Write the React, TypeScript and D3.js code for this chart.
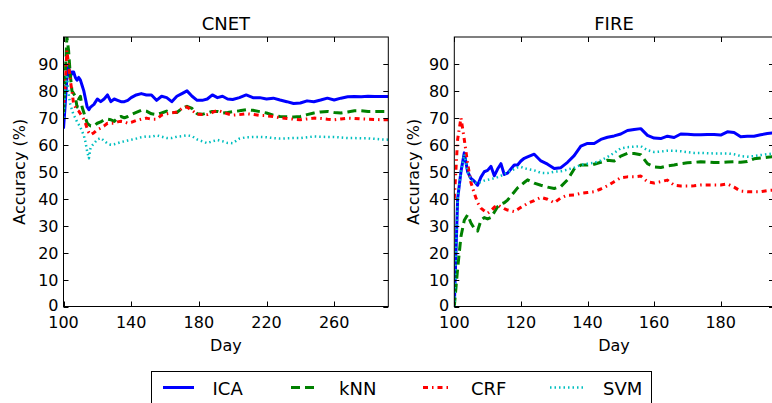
import React, { useEffect, useRef } from 'react';
import * as d3 from 'd3';

// CNET panel
const cnetDays = [100, 101, 102, 103, 104, 105, 106, 107, 108, 109, 110, 111, 112, 113, 114, 115, 116, 118, 120, 122, 124, 126, 128, 130, 132, 134, 136, 138, 140, 143, 146, 149, 152, 155, 158, 161, 164, 167, 170, 173, 176, 179, 182, 185, 188, 191, 194, 197, 200, 204, 208, 212, 216, 220, 224, 228, 232, 236, 240, 244, 248, 252, 256, 260, 264, 268, 272, 276, 280, 284, 288, 292];
const cnetICA = [66, 75, 85, 89, 85, 87, 87, 85, 84, 85, 84, 82, 80, 77, 74, 73, 74, 75, 77, 76, 77, 78.5, 76, 77, 76.5, 76, 76, 76.5, 77.5, 78.5, 79, 78.5, 78.5, 76.5, 78, 77.5, 76, 78, 79, 80, 78, 76.5, 76.5, 77, 78.5, 77.5, 78, 77, 76.8, 77.5, 78.5, 77.5, 77.5, 77, 77.3, 76.6, 76, 75.3, 75.5, 76.3, 76, 76.6, 77.3, 76.6, 77.3, 77.8, 77.9, 77.8, 78, 77.9, 77.9, 77.9];
const cnetKNN = [72, 85, 100, 95, 86, 80, 79, 78, 74, 77, 78, 74, 72, 70, 68, 67.5, 67, 67, 68, 68.5, 69.3, 69.5, 69.3, 68.7, 70, 70.5, 70, 70.5, 71.2, 72, 72.8, 72.5, 71.5, 71.2, 71.8, 72.5, 72, 72, 73.5, 74.3, 73.5, 71.5, 71.3, 71.8, 72.4, 72.4, 71.8, 72, 72.3, 72.6, 73, 72.8, 72.3, 71.8, 71, 70.5, 70.4, 70.3, 70.5, 71.2, 71.8, 72.2, 72.4, 72, 71.8, 72.2, 72.6, 72.6, 72.4, 72.4, 72.4, 72.4];
const cnetCRF = [75, 82, 95, 90, 84, 80, 75, 74, 73, 72.5, 71.5, 70.5, 69.5, 68, 66, 64.5, 63.7, 64.5, 65.6, 66.2, 67, 68, 68, 68, 68.5, 68.7, 68.5, 68, 68.3, 69, 69.5, 69.9, 69.5, 69.5, 71, 71.5, 71.8, 72.2, 73.5, 74, 72.8, 71.3, 71.2, 71.2, 72, 72.8, 72.2, 71.5, 71, 71.2, 71.5, 71.3, 70.9, 70.8, 70.5, 70, 69.8, 69.5, 69.3, 69.6, 69.9, 69.8, 69.5, 69.3, 69.6, 69.9, 69.8, 69.6, 69.5, 69.4, 69.3, 69.3];
const cnetSVM = [70, 80, 86, 79, 75, 73, 71, 70, 68.5, 67.5, 66.5, 65, 63.5, 61, 57.5, 55, 59, 60.5, 62, 62.5, 61.5, 60.5, 60, 60.2, 60.6, 61, 61.3, 61.6, 61.9, 62.3, 62.8, 63.1, 63, 63.5, 63, 62.5, 62.5, 63, 63.2, 63.5, 63.2, 62, 61.3, 60.6, 61.3, 61.8, 61.3, 60.7, 60.6, 62.3, 62.8, 62.9, 62.9, 62.8, 62.5, 62.3, 62.4, 62.5, 62.5, 62.8, 63.1, 63, 62.9, 62.9, 62.7, 62.5, 62.5, 62.4, 62.4, 62.2, 62, 61.9];
const cnetTicks = [100, 140, 180, 220, 260];

// FIRE panel
const fireDays = [100, 101, 102, 103, 104, 105, 106, 107, 108, 109, 110, 111, 112, 113, 114, 115, 116, 117, 118, 119, 120, 121, 122, 124, 126, 128, 130, 132, 134, 136, 138, 140, 142, 144, 146, 148, 150, 152, 154, 156, 158, 160, 162, 164, 166, 168, 170, 172, 174, 176, 178, 180, 182, 184, 186, 188, 190, 192, 194, 196];
const fireICA = [0, 40, 50, 57, 50, 47.5, 46.5, 45, 48, 50, 50.5, 52, 48.5, 51, 53, 49, 49.5, 51, 52.5, 52.5, 54, 55, 55.5, 56.5, 54, 52.8, 51.2, 51.5, 53.5, 56, 59.5, 60.5, 60.5, 62, 62.8, 63.3, 64, 65.3, 65.7, 66, 63.5, 62.5, 62.3, 63.2, 62.7, 64, 63.9, 63.7, 63.7, 63.8, 63.8, 63.6, 64.8, 64.6, 63, 63.2, 63.2, 63.7, 64.2, 64.5];
const fireKNN = [0, 14, 26, 32, 34, 31, 29, 28, 32, 33, 32.5, 33, 35, 37, 38, 38.5, 39.5, 41, 42.5, 44, 45, 46, 47, 45.8, 45, 44.3, 43.8, 44.5, 47, 51, 52.5, 52.5, 52.8, 53.5, 54.3, 54, 55.8, 56.8, 56.8, 56.3, 53, 51.8, 51.6, 52.2, 52.5, 53, 53.3, 53.5, 53.7, 53.6, 53.4, 53.4, 53.6, 53.7, 53.5, 53.8, 54.8, 55.1, 55.4, 55.6];
const fireCRF = [40, 62, 70, 62, 53, 46, 42, 38.5, 36.5, 35.5, 34.6, 35.5, 36.8, 37.7, 37, 36.3, 35.8, 35.5, 35.2, 36, 36.8, 37.5, 38.3, 39.3, 40.5, 39.8, 38.5, 40.3, 41.3, 41.4, 42, 42.3, 42.6, 43.6, 44.8, 46.3, 47.8, 48.1, 48.1, 48.4, 46.3, 45.8, 46.3, 46.9, 45, 44.7, 44.7, 44.8, 45.1, 45.1, 45.1, 45.1, 45.5, 44.3, 42.8, 42.6, 42.6, 42.6, 43, 43.2];
const fireSVM = [0, 40, 50, 56.5, 50, 47, 46, 45.7, 46.2, 46.7, 47, 47.3, 47.6, 48, 48.5, 49.2, 49.8, 50.4, 51, 51.6, 51.8, 51.3, 51, 50.5, 49.6, 49.5, 50, 50.2, 50.8, 51.5, 52.5, 53, 53.3, 54.2, 55.5, 57, 58.7, 59.1, 59.3, 59.5, 58, 57.3, 57.5, 57.8, 57.8, 57.6, 57.3, 57, 57, 56.9, 56.8, 56.8, 56.8, 56.5, 55.8, 55.6, 55.8, 56.2, 56.5, 56.8];
const fireTicks = [100, 120, 140, 160, 180, 200];

const yTicks = [0, 10, 20, 30, 40, 50, 60, 70, 80, 90];
const methods = ['ICA', 'kNN', 'CRF', 'SVM'];

const styles: Record<string, { color: string; dash: string | null; width: number }> = {
  ICA: { color: '#0000ff', dash: null, width: 3 },
  kNN: { color: '#008000', dash: '9,5', width: 3 },
  CRF: { color: '#ff0000', dash: '5,4,1.5,4', width: 3 },
  SVM: { color: '#00bfbf', dash: '1.5,3', width: 2.5 },
};

const FONT = 'DejaVu Sans, sans-serif';

const App = () => {
  const ref = useRef<SVGSVGElement | null>(null);

  useEffect(() => {
    const svg = d3.select(ref.current);
    svg.selectAll('*').remove();

    const panels = [
      { id: 'cnet', title: 'CNET', days: cnetDays, series: [cnetICA, cnetKNN, cnetCRF, cnetSVM], domain: [100, 292], left: 63.5, right: 388.3, ticks: cnetTicks, ylabX: 19 },
      { id: 'fire', title: 'FIRE', days: fireDays, series: [fireICA, fireKNN, fireCRF, fireSVM], domain: [100, 196], left: 454.3, right: 774, ticks: fireTicks, ylabX: 413 },
    ];
    const top = 37;
    const bottom = 306.5;

    panels.forEach((p) => {
      const x = d3.scaleLinear().domain(p.domain).range([p.left, p.right]);
      const y = d3.scaleLinear().domain([0, 100]).range([bottom, top]);
      const g = svg.append('g');

      g.append('clipPath')
        .attr('id', `clip-${p.id}`)
        .append('rect')
        .attr('x', p.left)
        .attr('y', top)
        .attr('width', p.right - p.left)
        .attr('height', bottom - top);

      const line = d3
        .line<number>()
        .x((_, i) => x(p.days[i]))
        .y((d) => y(d));

      // draw order: ICA, kNN, CRF, SVM
      p.series.forEach((vals, i) => {
        const s = styles[methods[i]];
        g.append('path')
          .datum(vals)
          .attr('clip-path', `url(#clip-${p.id})`)
          .attr('d', line)
          .attr('fill', 'none')
          .attr('stroke', s.color)
          .attr('stroke-width', s.width)
          .attr('stroke-dasharray', s.dash)
          .attr('stroke-linejoin', 'round');
      });

      // frame
      g.append('rect')
        .attr('x', p.left)
        .attr('y', top)
        .attr('width', p.right - p.left)
        .attr('height', bottom - top)
        .attr('fill', 'none')
        .attr('stroke', '#000')
        .attr('stroke-width', 1);

      // inward ticks on all sides
      p.ticks.forEach((t) => {
        const tx = Math.round(x(t)) + 0.5;
        g.append('line').attr('x1', tx).attr('x2', tx).attr('y1', bottom).attr('y2', bottom - 5).attr('stroke', '#000');
        g.append('line').attr('x1', tx).attr('x2', tx).attr('y1', top).attr('y2', top + 5).attr('stroke', '#000');
        if (t <= p.domain[1]) {
          g.append('text')
            .attr('x', x(t))
            .attr('y', bottom + 21.5)
            .attr('text-anchor', 'middle')
            .style('font-family', FONT)
            .style('font-size', '16px')
            .text(t);
        }
      });
      yTicks.forEach((t) => {
        const ty = Math.round(y(t)) + 0.5;
        g.append('line').attr('x1', p.left).attr('x2', p.left + 5).attr('y1', ty).attr('y2', ty).attr('stroke', '#000');
        g.append('line').attr('x1', p.right).attr('x2', p.right - 5).attr('y1', ty).attr('y2', ty).attr('stroke', '#000');
        g.append('text')
          .attr('x', p.left - 5)
          .attr('y', y(t) + (t === 0 ? 4 : 6))
          .attr('text-anchor', 'end')
          .style('font-family', FONT)
          .style('font-size', '16px')
          .text(t);
      });

      const cx = (p.left + p.right) / 2;
      g.append('text')
        .attr('x', p.id === 'fire' ? 614 : cx)
        .attr('y', 30)
        .attr('text-anchor', 'middle')
        .style('font-family', FONT)
        .style('font-size', '18px')
        .text(p.title);
      g.append('text')
        .attr('x', p.id === 'fire' ? 614 : cx)
        .attr('y', 351)
        .attr('text-anchor', 'middle')
        .style('font-family', FONT)
        .style('font-size', '16px')
        .text('Day');
      g.append('text')
        .attr('transform', `translate(${p.ylabX + 6},${(top + bottom) / 2}) rotate(-90)`)
        .attr('text-anchor', 'middle')
        .style('font-family', FONT)
        .style('font-size', '16px')
        .text('Accuracy (%)');
    });

    // legend
    const lg = svg.append('g');
    lg.append('rect')
      .attr('x', 151.5)
      .attr('y', 371.5)
      .attr('width', 500)
      .attr('height', 45)
      .attr('fill', '#fff')
      .attr('stroke', '#000')
      .attr('stroke-width', 1);
    const handleX = [163, 291, 423, 550];
    const textX = [212.5, 339, 471, 603];
    methods.forEach((m, i) => {
      const s = styles[m];
      lg.append('line')
        .attr('x1', handleX[i])
        .attr('x2', handleX[i] + (m === 'ICA' ? 31 : m === 'SVM' ? 33 : 25))
        .attr('y1', 387.5)
        .attr('y2', 387.5)
        .attr('stroke', s.color)
        .attr('stroke-width', s.width)
        .attr('stroke-dasharray', s.dash);
      lg.append('text')
        .attr('x', textX[i])
        .attr('y', 395)
        .style('font-family', FONT)
        .style('font-size', '18px')
        .text(m);
    });
  }, []);

  return (
    <svg
      ref={ref}
      width={772}
      height={403}
      style={{ position: 'absolute', left: 0, top: 0, background: '#fff' }}
    />
  );
};

export default App;
